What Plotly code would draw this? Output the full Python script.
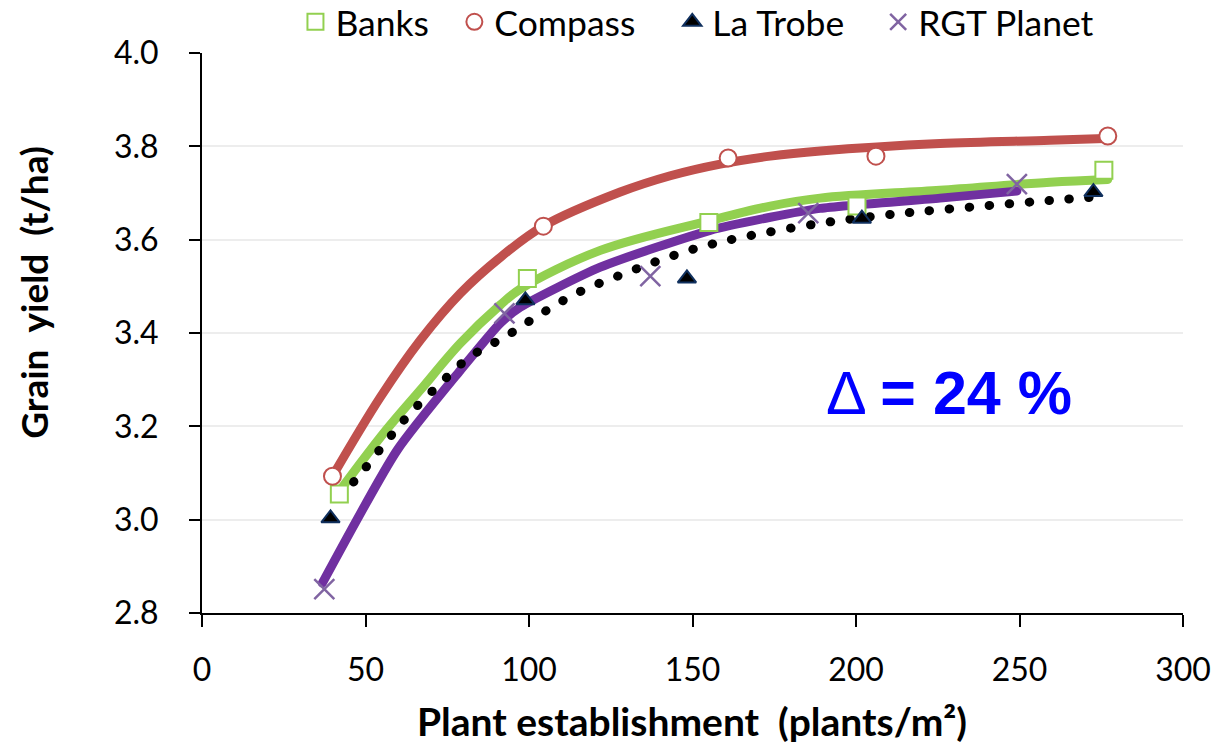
import plotly.graph_objects as go

# Measured plant establishment (plants/m²) and grain yield (t/ha) per variety
banks_x = [42, 99.5, 155, 200.3, 275.8]
banks_y = [3.055, 3.517, 3.637, 3.672, 3.749]

compass_x = [39.9, 104.4, 160.9, 206.1, 277.0]
compass_y = [3.093, 3.629, 3.775, 3.779, 3.822]

latrobe_x = [39.3, 98.9, 148.3, 201.8, 272.6]
latrobe_y = [3.003, 3.470, 3.517, 3.645, 3.702]

rgt_x = [37.4, 92.5, 137.1, 185.4, 249.2]
rgt_y = [2.851, 3.442, 3.522, 3.657, 3.719]

# Fitted response curves
compass_fit_x = [39.9, 54.5, 66.8, 79.0, 91.2, 104.4, 127.9, 143.2, 158.5, 173.8, 189.1, 225.7, 259.3, 276.1]
compass_fit_y = [3.093, 3.262, 3.385, 3.485, 3.562, 3.629, 3.702, 3.737, 3.762, 3.779, 3.790, 3.806, 3.813, 3.817]

banks_fit_x = [41.7, 55.5, 66.8, 79.0, 91.2, 97.3, 121.8, 155.4, 173.8, 189.0, 225.7, 259.3, 277.0]
banks_fit_y = [3.058, 3.185, 3.278, 3.378, 3.460, 3.494, 3.577, 3.641, 3.672, 3.689, 3.706, 3.723, 3.729]

rgt_fit_x = [36.8, 59.7, 79.0, 91.2, 97.3, 121.8, 155.4, 173.8, 189.0, 225.7, 249.2]
rgt_fit_y = [2.864, 3.149, 3.320, 3.421, 3.455, 3.541, 3.620, 3.648, 3.667, 3.689, 3.704]

latrobe_fit_x = [42.0, 46.9, 55.5, 63.4, 72.3, 81.8, 93.4, 104.1, 115.1, 127.9, 139.2, 151.4, 163.7, 189.0, 208.0, 220.8, 259.3, 272.5]
latrobe_fit_y = [3.050, 3.085, 3.160, 3.226, 3.288, 3.348, 3.395, 3.443, 3.487, 3.524, 3.554, 3.582, 3.603, 3.635, 3.652, 3.661, 3.684, 3.691]

x_ticks = [0, 50, 100, 150, 200, 250, 300]
y_ticks = [2.8, 3.0, 3.2, 3.4, 3.6, 3.8, 4.0]

delta_label = "Δ <b>= 24 %</b>"
x_title = "<b>Plant establishment\u00a0 (plants/m²)</b>"
y_title = "<b>Grain\u00a0 yield\u00a0 (t/ha)</b>"

RED = "#C0504D"
GREEN = "#92D050"
PURPLE = "#7030A0"
XPURPLE = "#8064A2"

# pixel geometry of the plotting area
L, R, T, B = 201.5, 1183.0, 52.7, 613.0
PW, PH = R - L, B - T

fig = go.Figure()

# Trend curves
fig.add_trace(go.Scatter(x=compass_fit_x, y=compass_fit_y, mode="lines",
                         line=dict(color=RED, width=9, shape="spline"),
                         showlegend=False, hoverinfo="skip"))
fig.add_trace(go.Scatter(x=banks_fit_x, y=banks_fit_y, mode="lines",
                         line=dict(color=GREEN, width=9, shape="spline"),
                         showlegend=False, hoverinfo="skip"))
fig.add_trace(go.Scatter(x=rgt_fit_x, y=rgt_fit_y, mode="lines",
                         line=dict(color=PURPLE, width=9, shape="spline", smoothing=0.6),
                         showlegend=False, hoverinfo="skip"))
fig.add_trace(go.Scatter(x=latrobe_fit_x, y=latrobe_fit_y, mode="lines",
                         line=dict(color="black", width=9, shape="spline", dash="0.5px,19.5px"),
                         showlegend=False, hoverinfo="skip"))

# Observed points, each with its own legend box along the top
fig.add_trace(go.Scatter(x=banks_x, y=banks_y, mode="markers", name="Banks", legend="legend",
                         marker=dict(symbol="square", size=17, color="white",
                                     line=dict(color=GREEN, width=2))))
fig.add_trace(go.Scatter(x=compass_x, y=compass_y, mode="markers", name="Compass", legend="legend2",
                         marker=dict(symbol="circle", size=17, color="white",
                                     line=dict(color=RED, width=2))))
fig.add_trace(go.Scatter(x=latrobe_x, y=latrobe_y, mode="markers", name="La Trobe", legend="legend3",
                         marker=dict(symbol="triangle-up", size=16, color="black",
                                     line=dict(color="#10305E", width=2))))
fig.add_trace(go.Scatter(x=rgt_x, y=rgt_y, mode="markers", name="RGT Planet", legend="legend4",
                         marker=dict(symbol="x-thin", size=20, color=XPURPLE,
                                     line=dict(color=XPURPLE, width=2.5))))

fig.add_annotation(x=228.5, y=3.272, xref="x", yref="y", text=delta_label,
                   showarrow=False, xanchor="center", yanchor="middle",
                   font=dict(family="Liberation Sans, Arial", size=61, color="#0000FF"))

fig.add_annotation(x=(33 - L) / PW, y=(B - 292) / PH, xref="paper", yref="paper",
                   text=y_title, textangle=-90, showarrow=False,
                   xanchor="center", yanchor="middle",
                   font=dict(family="Lato", size=37, color="black"))

fig.add_annotation(x=(692 - L) / PW, y=(B - 721) / PH, xref="paper", yref="paper",
                   text=x_title, showarrow=False, xanchor="center", yanchor="middle",
                   font=dict(family="Lato", size=39, color="black"))


def legend_box(px_left):
    return dict(orientation="h", x=(px_left - L) / PW, xanchor="left", y=1.055,
                yanchor="middle", font=dict(family="Lato", size=35.5, color="black"),
                bgcolor="rgba(0,0,0,0)", itemwidth=30)


fig.update_layout(
    width=1219, height=744,
    margin=dict(l=L, r=1219 - R, t=T, b=744 - B, autoexpand=False),
    paper_bgcolor="white", plot_bgcolor="white",
    font=dict(family="Lato", size=32, color="black"),
    legend=legend_box(295), legend2=legend_box(454),
    legend3=legend_box(672), legend4=legend_box(878),
    xaxis=dict(range=[0, 300], tickvals=x_ticks, ticks="outside", ticklen=12, tickwidth=1.5,
               tickcolor="black", showline=True, linecolor="black", linewidth=2,
               showgrid=False, zeroline=False, ticklabelstandoff=16,
               tickfont=dict(family="Lato", size=32)),
    yaxis=dict(range=[2.8, 4.0], tickvals=y_ticks, tickformat=".1f", ticks="outside",
               ticklen=11, tickwidth=1.5, tickcolor="black", showline=True,
               linecolor="black", linewidth=2, showgrid=True, gridcolor="#EDEDED",
               gridwidth=2, zeroline=False, ticklabelstandoff=24,
               tickfont=dict(family="Lato", size=32)),
)

post = """
var gd = document.getElementById('{plot_id}');
gd.querySelectorAll('path.js-line').forEach(function(p){
  p.style.strokeLinecap = 'round';
  p.style.strokeLinejoin = 'round';
});
"""
fig.write_html("out.html", post_script=post)
